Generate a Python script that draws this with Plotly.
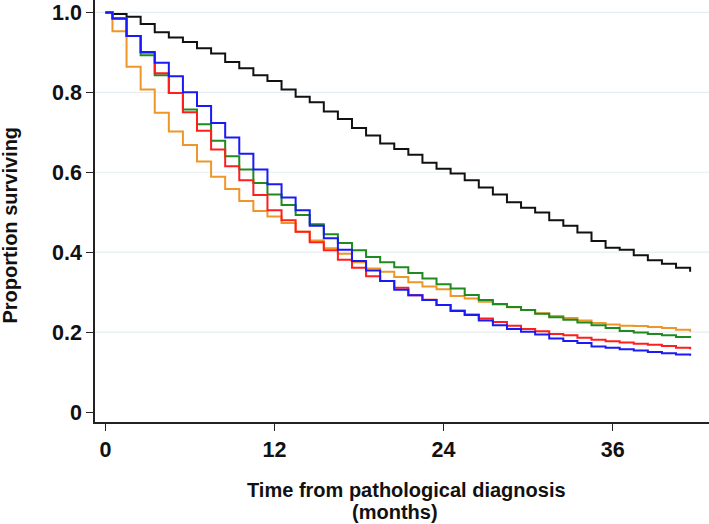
import plotly.graph_objects as go

# Step times (months): curve value k holds from times[k] to times[k+1]
times = [0, 0.5, 1.5, 2.5, 3.5, 4.5, 5.5, 6.5, 7.5, 8.5, 9.5, 10.5, 11.5, 12.5, 13.5,
         14.5, 15.5, 16.5, 17.5, 18.5, 19.5, 20.5, 21.5, 22.5, 23.5, 24.5, 25.5, 26.5,
         27.5, 28.5, 29.5, 30.5, 31.5, 32.5, 33.5, 34.5, 35.5, 36.5, 37.5, 38.5, 39.5,
         40.5, 41.5]

surv_black = [1.0, 0.996, 0.989, 0.971, 0.950, 0.937, 0.926, 0.910, 0.897, 0.876, 0.860,
              0.843, 0.828, 0.807, 0.789, 0.775, 0.752, 0.733, 0.711, 0.692, 0.672, 0.658,
              0.644, 0.624, 0.609, 0.597, 0.580, 0.562, 0.544, 0.525, 0.511, 0.499, 0.480,
              0.466, 0.449, 0.428, 0.411, 0.406, 0.392, 0.380, 0.371, 0.361, 0.351]

surv_green = [1.0, 0.985, 0.941, 0.893, 0.843, 0.798, 0.757, 0.720, 0.679, 0.640, 0.607,
              0.573, 0.544, 0.518, 0.493, 0.470, 0.445, 0.423, 0.405, 0.388, 0.375, 0.362,
              0.348, 0.334, 0.320, 0.309, 0.293, 0.280, 0.270, 0.263, 0.255, 0.246, 0.237,
              0.231, 0.224, 0.217, 0.210, 0.203, 0.199, 0.195, 0.192, 0.188, 0.185]

surv_red = [1.0, 0.985, 0.941, 0.899, 0.848, 0.798, 0.750, 0.704, 0.657, 0.615, 0.580,
            0.543, 0.505, 0.480, 0.451, 0.425, 0.405, 0.381, 0.361, 0.340, 0.328, 0.311,
            0.292, 0.281, 0.268, 0.254, 0.244, 0.234, 0.225, 0.216, 0.208, 0.202, 0.195,
            0.192, 0.186, 0.181, 0.177, 0.174, 0.171, 0.168, 0.165, 0.161, 0.157]

surv_blue = [1.0, 0.985, 0.941, 0.901, 0.874, 0.840, 0.800, 0.766, 0.723, 0.687, 0.646,
             0.607, 0.570, 0.537, 0.505, 0.466, 0.435, 0.406, 0.378, 0.354, 0.328, 0.306,
             0.292, 0.280, 0.268, 0.253, 0.243, 0.229, 0.217, 0.208, 0.201, 0.194, 0.184,
             0.178, 0.173, 0.164, 0.161, 0.157, 0.154, 0.150, 0.147, 0.144, 0.141]

surv_orange = [1.0, 0.953, 0.864, 0.807, 0.749, 0.702, 0.668, 0.627, 0.589, 0.558, 0.528,
               0.503, 0.489, 0.473, 0.451, 0.429, 0.410, 0.396, 0.375, 0.359, 0.351, 0.338,
               0.325, 0.314, 0.307, 0.290, 0.284, 0.276, 0.269, 0.262, 0.255, 0.247, 0.240,
               0.235, 0.229, 0.223, 0.219, 0.216, 0.215, 0.213, 0.210, 0.206, 0.201]

x_ticks = [0, 12, 24, 36]
y_ticks = [0, 0.2, 0.4, 0.6, 0.8, 1.0]
y_tick_labels = ["0", "0.2", "0.4", "0.6", "0.8", "1.0"]
grid_levels = [0.2, 0.4, 0.6, 0.8, 1.0]

series = [
    ("black", surv_black, "#111111"),
    ("orange", surv_orange, "#EE9628"),
    ("green", surv_green, "#1F8A1F"),
    ("red", surv_red, "#FF1E1E"),
    ("blue", surv_blue, "#1A1AF5"),
]

fig = go.Figure()
for name, vals, col in series:
    fig.add_trace(go.Scatter(x=times, y=vals, mode="lines", name=name,
                             line=dict(color=col, width=2, shape="hv"),
                             showlegend=False, hoverinfo="skip"))

for g in grid_levels:
    fig.add_shape(type="line", xref="paper", yref="y", x0=0, x1=1, y0=g, y1=g,
                  line=dict(color="#E6EDF1", width=1.2), layer="below")

font_family = "Liberation Sans, Arial, sans-serif"
tick_font = dict(size=21.5, family=font_family, weight="bold", color="#111111")
fig.update_layout(
    width=709, height=524,
    margin=dict(l=95, r=0, t=0, b=102),
    paper_bgcolor="white", plot_bgcolor="white",
    font=dict(family=font_family, color="#111111"),
    xaxis=dict(range=[-0.74, 42.84], tickvals=x_ticks, ticktext=[str(v) for v in x_ticks],
               showgrid=False, zeroline=False, showline=True, linecolor="#222222",
               linewidth=1.5, ticks="outside", ticklen=7, tickwidth=1.3, tickcolor="#222222",
               tickfont=tick_font),
    yaxis=dict(range=[-0.025, 1.031], tickvals=y_ticks, ticktext=y_tick_labels,
               showgrid=False, zeroline=False, showline=True, linecolor="#222222",
               linewidth=1.5, ticks="outside", ticklen=7, tickwidth=1.3, tickcolor="#222222",
               tickfont=tick_font),
    annotations=[
        dict(text="<b>Time from pathological diagnosis</b>",
             xref="paper", yref="paper", x=0.507, y=-0.160, xanchor="center", yanchor="middle",
             showarrow=False, font=dict(size=20, family=font_family, color="#111111")),
        dict(text="<b>(months)</b>",
             xref="paper", yref="paper", x=0.489, y=-0.2135, xanchor="center", yanchor="middle",
             showarrow=False, font=dict(size=20, family=font_family, color="#111111")),
        dict(text="<b>Proportion surviving</b>", xref="paper", yref="paper", x=-0.138, y=0.466,
             xanchor="center", yanchor="middle", textangle=-90, showarrow=False,
             font=dict(size=20, family=font_family, color="#111111")),
    ],
)

fig.write_html("out.html", config={"displayModeBar": False},
               post_script="document.body.style.margin='0px';document.body.style.overflow='hidden';")
